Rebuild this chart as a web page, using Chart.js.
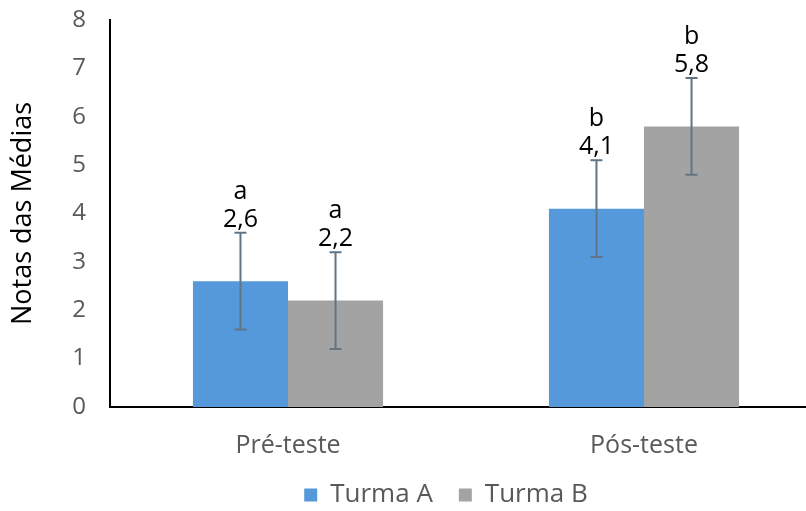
<!DOCTYPE html>
<html>
<head>
<meta charset="utf-8">
<script src="https://cdn.jsdelivr.net/npm/chart.js@4"></script>
<style>
  html, body { margin: 0; padding: 0; background: #fff; overflow: hidden; }
  canvas { display: block; }
</style>
</head>
<body>
<canvas id="grafico" width="822" height="511"></canvas>
<script>
// Dados do gráfico
const categorias = ['Pré-teste', 'Pós-teste'];
const turmaA = [2.6, 4.1];
const turmaB = [2.2, 5.8];
const erroA = [1, 1];
const erroB = [1, 1];
const letrasA = ['a', 'b'];
const letrasB = ['a', 'b'];
const ticksY = [0, 1, 2, 3, 4, 5, 6, 7, 8];

const cinza = '#595959';
const fonteCinza = { family: 'Open Sans', size: 24 };

// Barras de erro + rótulos (letra e valor) acima de cada barra
const errosPlugin = {
  id: 'erros',
  afterDatasetsDraw(chart) {
    const { ctx, scales: { y } } = chart;
    const erros = [erroA, erroB];
    const letras = [letrasA, letrasB];
    chart.data.datasets.forEach((ds, i) => {
      const meta = chart.getDatasetMeta(i);
      meta.data.forEach((bar, j) => {
        const v = ds.data[j];
        const e = erros[i][j];
        const yTop = y.getPixelForValue(v + e);
        const yBot = y.getPixelForValue(v - e);
        const x = bar.x;
        ctx.save();
        ctx.strokeStyle = '#627584';
        ctx.lineWidth = 2;
        ctx.beginPath();
        ctx.moveTo(x, yTop); ctx.lineTo(x, yBot);
        ctx.moveTo(x - 6, yTop); ctx.lineTo(x + 6, yTop);
        ctx.moveTo(x - 6, yBot); ctx.lineTo(x + 6, yBot);
        ctx.stroke();
        ctx.fillStyle = '#000';
        ctx.font = '25px "Open Sans"';
        ctx.textAlign = 'center';
        ctx.textBaseline = 'alphabetic';
        ctx.fillText(v.toFixed(1).replace('.', ','), x, yTop - 6);
        ctx.fillText(letras[i][j], x, yTop - 34);
        ctx.restore();
      });
    });
  }
};

new Chart(document.getElementById('grafico'), {
  type: 'bar',
  data: {
    labels: categorias,
    datasets: [
      { label: 'Turma A', data: turmaA, backgroundColor: '#5599db' },
      { label: 'Turma B', data: turmaB, backgroundColor: '#a3a3a3' }
    ]
  },
  options: {
    responsive: false,
    animation: false,
    layout: { padding: { left: 70, right: 0, top: 20, bottom: -7 } },
    datasets: { bar: { categoryPercentage: 0.534, barPercentage: 1 } },
    plugins: {
      tooltip: { enabled: false },
      legend: {
        position: 'bottom',
        labels: { boxWidth: 13, boxHeight: 13, color: cinza, font: { family: 'Open Sans', size: 26 }, padding: 26 }
      }
    },
    scales: {
      x: {
        grid: { display: false, drawTicks: false },
        border: { color: '#000', width: 2 },
        ticks: { color: cinza, font: { family: 'Open Sans', size: 25 }, padding: 24 },
        afterFit: s => { s.height = 49; s.paddingLeft = 0; s.paddingRight = 0; }
      },
      y: {
        min: 0,
        max: 8,
        afterBuildTicks: s => { s.ticks = ticksY.map(v => ({ value: v })); },
        grid: { display: false, drawTicks: false },
        border: { color: '#000', width: 2 },
        ticks: { color: cinza, font: fonteCinza, padding: 24 },
        title: {
          display: true,
          text: 'Notas das Médias',
          color: '#000',
          font: { family: 'Open Sans', size: 27 },
          padding: { top: -63 }
        },
        afterFit: s => { s.width = 40; s.paddingTop = 0; s.paddingBottom = 0; }
      }
    }
  },
  plugins: [errosPlugin]
});
</script>
</body>
</html>
